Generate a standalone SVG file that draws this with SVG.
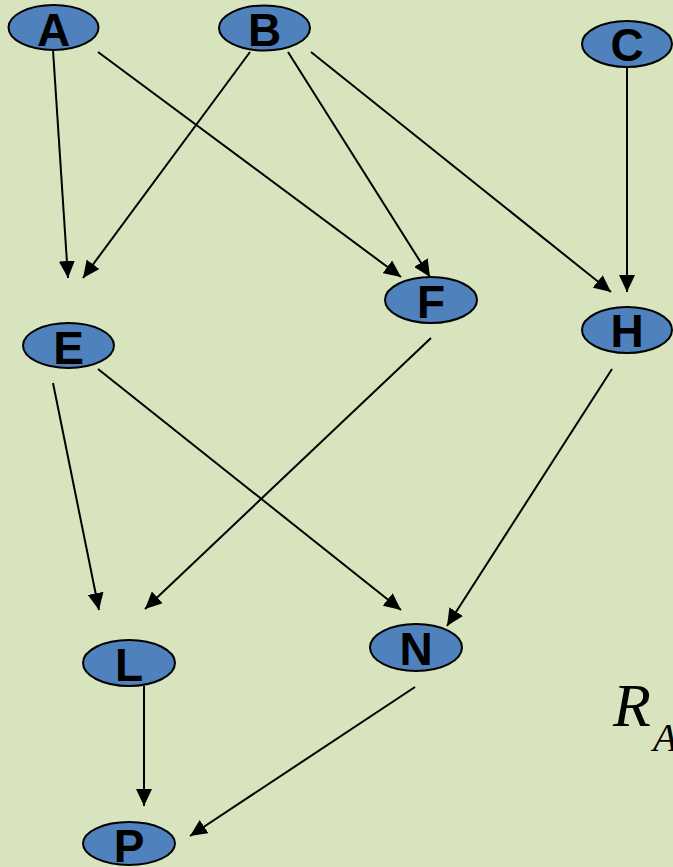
<svg xmlns="http://www.w3.org/2000/svg" width="673" height="867" viewBox="0 0 673 867">
<defs>
<style>
.node ellipse{fill:#4f81bd;stroke:#000;stroke-width:2}
.node text{font-family:"Liberation Sans",Arial,sans-serif;font-weight:bold;font-size:46px;fill:#000;text-anchor:middle}
.edge{stroke:#000;stroke-width:2;fill:none;marker-end:url(#arr)}
</style>
<marker id="arr" markerUnits="userSpaceOnUse" markerWidth="18" markerHeight="16" refX="17" refY="8" orient="auto">
<path d="M0,0 L17,8 L0,16 z" fill="#000"/>
</marker>
</defs>
<rect width="673" height="867" fill="#d8e4bd"/>
<g id="connectors">
<path class="edge" d="M53,50 L68,278"/>
<path class="edge" d="M98,52 L401,277"/>
<path class="edge" d="M250,52 L83,278"/>
<path class="edge" d="M288,52 L430,277"/>
<path class="edge" d="M311,52 L611,292"/>
<path class="edge" d="M627,67 L627,292"/>
<path class="edge" d="M53,383 L99,610"/>
<path class="edge" d="M98,369 L401,610"/>
<path class="edge" d="M431,338 L145,609"/>
<path class="edge" d="M612,369 L447,626"/>
<path class="edge" d="M144,686 L144,806"/>
<path class="edge" d="M415,687 L190,836"/>
</g>
<g id="A" class="node"><ellipse cx="53.5" cy="27.5" rx="45" ry="22.5"/><text x="53.5" y="46">A</text></g>
<g id="B" class="node"><ellipse cx="264.5" cy="28" rx="45.5" ry="22.5"/><text x="264.5" y="46">B</text></g>
<g id="C" class="node"><ellipse cx="627" cy="44" rx="45" ry="23"/><text x="627" y="61">C</text></g>
<g id="E" class="node"><ellipse cx="68.5" cy="345.5" rx="45.5" ry="22.5"/><text x="68.5" y="364">E</text></g>
<g id="F" class="node"><ellipse cx="431" cy="300" rx="46" ry="23"/><text x="431" y="318">F</text></g>
<g id="H" class="node"><ellipse cx="627" cy="330" rx="45" ry="23"/><text x="627" y="347">H</text></g>
<g id="L" class="node"><ellipse cx="129" cy="663" rx="46" ry="23"/><text x="129" y="681">L</text></g>
<g id="N" class="node"><ellipse cx="416" cy="647.5" rx="46" ry="23.5"/><text x="416" y="665">N</text></g>
<g id="P" class="node"><ellipse cx="129" cy="843.5" rx="46" ry="21.5"/><text x="129" y="862">P</text></g>
<text x="613" y="726" font-family="'Liberation Serif','Times New Roman',serif" font-style="italic" font-size="62">R<tspan x="653" y="751" font-size="40">A</tspan></text>
</svg>
